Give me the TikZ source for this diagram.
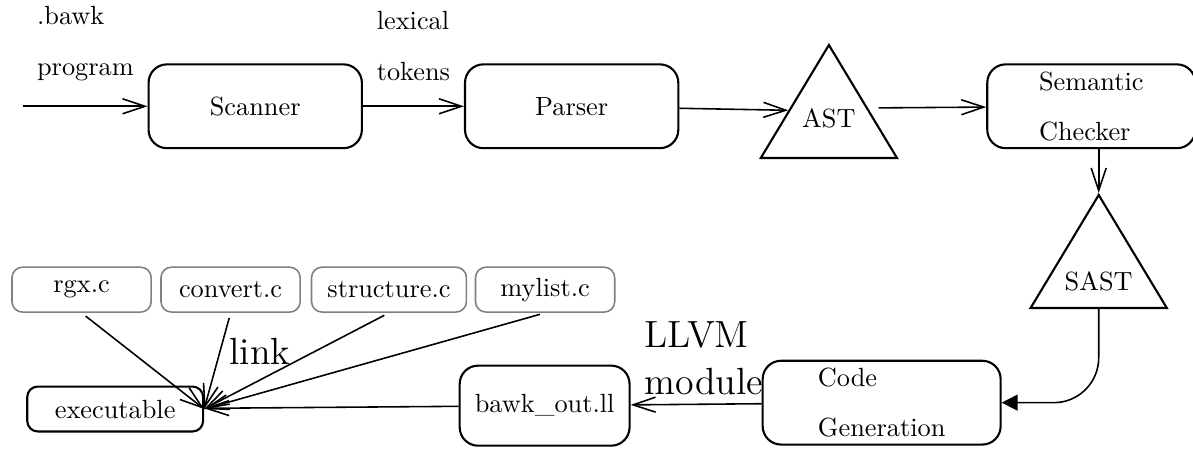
\documentclass[tikz,border=0pt]{standalone}
\usepackage{tikz}
\usetikzlibrary{shapes,arrows.meta,positioning,calc}
\tikzstyle{stage}=[draw, thick, rounded corners=7pt, minimum width=2.85cm, minimum height=1.12cm, inner ysep=2pt]
\tikzstyle{tree}=[draw, thick, isosceles triangle, shape border rotate=90, isosceles triangle apex angle=62, isosceles triangle stretches, minimum width=1.82cm, minimum height=1.51cm, inner sep=0pt, anchor=apex]
\tikzstyle{lib}=[draw=gray, rounded corners=4pt, minimum width=1.86cm, minimum height=0.6cm]

\begin{document}
\begin{tikzpicture}[->,>={Straight Barb[length=3mm,width=2mm]}, semithick]
\useasboundingbox (0,0) rectangle (15.94,-6.01);
%
  \node[stage] (scan) at (3.41,-1.42) {Scanner};
  \coordinate[left = 1.66cm of scan] (in);
  \node[stage] (parse) [right = 1.35cm of scan] {Parser};
  \node[stage, minimum width=2.78cm, align=left] (sem) [right = 4.1cm of parse] {Semantic\\[7pt]Checker};
%
  \node[tree] (ast) at (11.075,-0.574) {};
  \node (asttxt) at ($(ast.apex)!0.65!(ast.lower side)$) {AST};
  \coordinate (astin) at ($(ast.apex)!0.58!(ast.left corner)$);
  \coordinate (astout) at ($(ast.apex)!0.56!(ast.right corner)$);
%
  \node[tree] (sast) at (14.68,-2.578) {};
  \node (sasttxt) at ($(sast.apex)!0.76!(sast.lower side)$) {SAST};
%
  \node[stage, minimum width=3.18cm, align=left] (gen) at (11.78,-5.38) {Code\\[7pt]Generation};
  \node[stage, minimum width=2.27cm, minimum height=1.07cm] (ll) [left = 1.75cm of gen, yshift=-0.04cm] {bawk\_out.ll};
  \node[stage, minimum width=2.35cm, minimum height=0.6cm, rounded corners=4pt] (exe) [left = 3.4cm of ll, yshift=-0.045cm] {executable};
%
  \node[lib] (rgx) at (1.09,-3.87) {rgx.c};
  \node[lib] (conv) [right = 0.11cm of rgx] {convert.c};
  \node[lib, minimum width=2.07cm] (struc) [right = 0.13cm of conv] {structure.c};
  \node[lib] (myl) [right = 0.1cm of struc] {mylist.c};
%
  \path[]
  (in) edge node[above=6pt, align=left] {.bawk\\[7.5pt]program} (scan)
  (scan) edge node[above=6pt, align=left] {lexical\\[7.5pt]tokens} (parse)
  (parse) edge (astin)
  (sem.south -| sast.apex) edge (sast.apex)
  (gen) edge node[above, xshift=3pt, align=left, font=\Large] {LLVM\\module} (ll)
  (ll) edge (exe);
  \path[shorten <=4pt]
  (astout) edge (sem);
%
  \path[shorten <=2pt]
  (rgx.south) edge (exe.east)
  (conv.south) edge node[right, pos=0.4, font=\Large] {link} (exe.east)
  (struc.south) edge (exe.east)
  (myl.south) edge (exe.east);
%
  \draw[rounded corners=0.6cm, -{Triangle[length=6pt,width=6pt]}] (sast.lower side) |- (gen.east);
\end{tikzpicture}
\end{document}
